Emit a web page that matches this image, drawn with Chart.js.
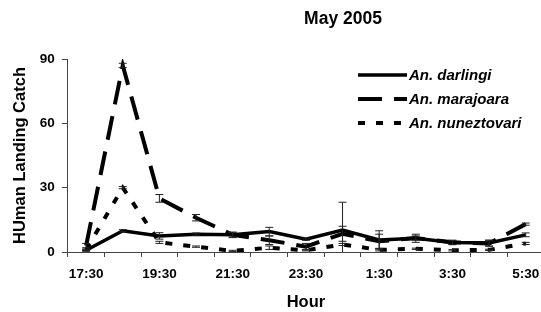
<!DOCTYPE html>
<html>
<head>
<meta charset="utf-8">
<script src="https://cdn.jsdelivr.net/npm/chart.js@4.4.0/dist/chart.umd.min.js"></script>
<style>
html, body { margin: 0; padding: 0; background: #fff; overflow: hidden; }
#wrap { width: 560px; height: 312px; }
</style>
</head>
<body>
<div id="wrap"><canvas id="lineChart"></canvas></div>
<script>
var hours = ["17:30", "18:30", "19:30", "20:30", "21:30", "22:30", "23:30", "0:30", "1:30", "2:30", "3:30", "4:30", "5:30"];
var darlingi = [0.8, 9.9, 7.5, 8.3, 8, 9.5, 6, 10.2, 5.6, 6.4, 4.4, 4.2, 8];
var marajoara = [3, 87, 25, 16, 8, 5.5, 2.5, 8.5, 5, 6.5, 4.5, 4, 13];
var nuneztovari = [1, 30, 4.5, 2.5, 0.5, 2, 0.8, 3.5, 1, 1.5, 0.8, 1, 4];
var darlingiErr = [0.5, 0.5, 1.5, 0.5, 1, 2, 0.5, 13, 4.3, 1.9, 1, 1.4, 0.9];
var marajoaraErr = [1, 1, 1.8, 1.5, 1.3, 2, 1.5, 3.5, 3.3, 1, 1, 1.3, 0.5];
var nuneztovariErr = [0.3, 0.5, 0.5, 0.3, 0.3, 0.8, 0.3, 0.5, 0.5, 0.3, 0.3, 0.3, 0.5];
var yTicks = [0, 30, 60, 90];
var errors = [darlingiErr, marajoaraErr, nuneztovariErr];

var FONT = "'Liberation Sans', Arial, sans-serif";

// error bars, drawn from the y scale
var errorBars = {
  id: 'errorBars',
  afterDatasetsDraw: function(chart) {
    var ctx = chart.ctx, y = chart.scales.y, area = chart.chartArea;
    ctx.save();
    ctx.beginPath();
    ctx.rect(area.left, area.top - 6, area.right - area.left, area.bottom - area.top + 6);
    ctx.clip();
    ctx.strokeStyle = '#222';
    ctx.lineWidth = 1;
    chart.data.datasets.forEach(function(ds, i) {
      var meta = chart.getDatasetMeta(i);
      meta.data.forEach(function(pt, j) {
        var e = errors[i][j];
        if (!e) return;
        var top = y.getPixelForValue(ds.data[j] + e);
        var bot = y.getPixelForValue(ds.data[j] - e);
        ctx.beginPath();
        ctx.moveTo(pt.x, top); ctx.lineTo(pt.x, bot);
        ctx.moveTo(pt.x - 4, top); ctx.lineTo(pt.x + 4, top);
        ctx.moveTo(pt.x - 4, bot); ctx.lineTo(pt.x + 4, bot);
        ctx.stroke();
      });
    });
    ctx.restore();
  }
};

// title and legend inside the plot
var extras = {
  id: 'extras',
  afterDraw: function(chart) {
    var ctx = chart.ctx;
    ctx.save();
    ctx.fillStyle = '#000';
    ctx.textAlign = 'center';
    ctx.textBaseline = 'middle';
    ctx.font = 'bold 17.5px ' + FONT;
    ctx.fillText('May 2005', 343, 19);

    var rows = [75, 99, 123];
    ctx.textAlign = 'left';
    ctx.font = 'italic bold 15px ' + FONT;
    chart.data.datasets.forEach(function(ds, i) {
      ctx.strokeStyle = '#000';
      ctx.lineWidth = ds.borderWidth;
      ctx.setLineDash(ds.borderDash || []);
      ctx.beginPath();
      ctx.moveTo(358, rows[i]);
      ctx.lineTo(407, rows[i]);
      ctx.stroke();
      ctx.setLineDash([]);
      ctx.fillText(ds.label, 409, rows[i] + 1);
    });
    ctx.restore();
  }
};

var ctxL = document.getElementById("lineChart").getContext('2d');
var myLineChart = new Chart(ctxL, {
  type: 'line',
  data: {
    labels: hours,
    datasets: [{
      label: "An. darlingi",
      data: darlingi,
      borderColor: '#000',
      borderWidth: 3.5,
      pointRadius: 0,
      tension: 0
    },
    {
      label: "An. marajoara",
      data: marajoara,
      borderColor: '#000',
      borderWidth: 4,
      borderDash: [24, 12],
      pointRadius: 0,
      tension: 0
    },
    {
      label: "An. nuneztovari",
      data: nuneztovari,
      borderColor: '#000',
      borderWidth: 4,
      borderDash: [7, 11],
      pointRadius: 0,
      tension: 0
    }]
  },
  options: {
    responsive: true,
    maintainAspectRatio: false,
    animation: false,
    layout: { padding: { top: 59, left: 9, right: 16, bottom: 0 } },
    plugins: {
      legend: { display: false },
      title: { display: false },
      tooltip: { enabled: false }
    },
    scales: {
      x: {
        offset: true,
        grid: { offset: true, drawOnChartArea: false, tickLength: 5, color: '#444' },
        border: { color: '#444', width: 1 },
        ticks: {
          autoSkip: false,
          maxRotation: 0,
          padding: 9,
          color: '#000',
          font: { family: FONT, size: 13.5, weight: 'bold' },
          callback: function(val, idx) { return idx % 2 === 0 ? hours[idx] : ''; }
        },
        title: {
          display: true,
          text: 'Hour',
          color: '#000',
          padding: { top: 1, bottom: 0 },
          font: { family: FONT, size: 16.5, weight: 'bold' }
        }
      },
      y: {
        min: 0,
        max: 90,
        afterBuildTicks: function(scale) {
          scale.ticks = yTicks.map(function(v) { return { value: v }; });
        },
        grid: { drawOnChartArea: false, tickLength: 6, color: '#444' },
        border: { color: '#444', width: 1 },
        ticks: {
          padding: 7,
          color: '#000',
          font: { family: FONT, size: 13.5, weight: 'bold' }
        },
        title: {
          display: true,
          text: 'HUman Landing Catch',
          color: '#000',
          padding: { top: 2, bottom: 2 },
          font: { family: FONT, size: 16.5, weight: 'bold' }
        }
      }
    }
  },
  plugins: [errorBars, extras]
});
</script>
</body>
</html>
